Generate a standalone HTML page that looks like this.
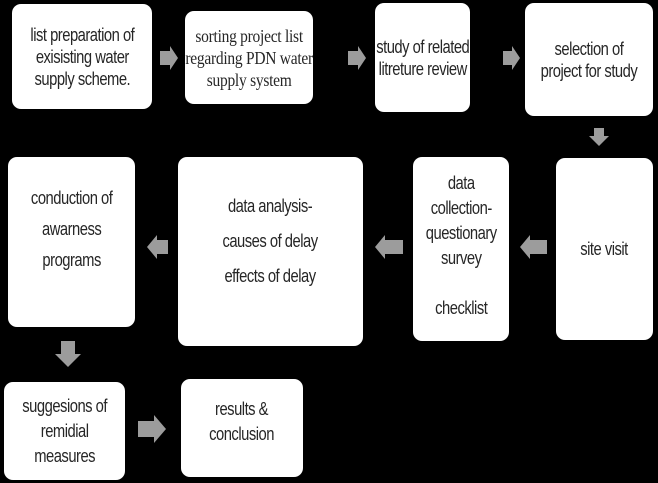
<!DOCTYPE html>
<html><head><meta charset="utf-8"><style>
html,body{margin:0;padding:0;background:#000;}
body{width:658px;height:483px;position:relative;overflow:hidden;font-family:"Liberation Sans Narrow","Liberation Sans",sans-serif;}
.b{position:absolute;background:#fff;border-radius:9px;display:flex;align-items:center;justify-content:center;text-align:center;color:#262626;font-size:18px;line-height:22px;letter-spacing:-0.6px;white-space:nowrap;}
.b > span{display:block;transform:scaleX(0.82);}
.s{font-family:"Liberation Serif",serif;letter-spacing:-0.3px;font-size:18px;}
.s > span{transform:scaleX(0.86);}
svg{position:absolute;left:0;top:0;}
</style></head><body>
<div class="b" style="left:12px;top:4px;width:140px;height:105px;"><span>list preparation of<br>exisisting water<br>supply scheme.</span></div>
<div class="b s" style="left:185px;top:11px;width:128px;height:93px;"><span>sorting project list<br>regarding PDN water<br>supply system</span></div>
<div class="b" style="left:375px;top:3px;width:95px;height:109px;"><span>study of related<br>litreture review</span></div>
<div class="b" style="left:525px;top:3px;width:128px;height:113px;"><span>selection of<br>project for study</span></div>

<div class="b" style="left:8px;top:157px;width:127px;height:170px;line-height:31px;"><span style="margin-top:-26px">conduction of<br>awarness<br>programs</span></div>
<div class="b" style="left:178px;top:157px;width:185px;height:189px;line-height:35px;"><span style="margin-top:-20px">data analysis-<br>causes of delay<br>effects of delay</span></div>
<div class="b" style="left:413px;top:157px;width:96px;height:184px;line-height:25px;"><span style="margin-top:-6px">data<br>collection-<br>questionary<br>survey<br><br style="line-height:8px">checklist</span></div>
<div class="b" style="left:556px;top:158px;width:97px;height:182px;"><span>site visit</span></div>

<div class="b" style="left:4px;top:382px;width:121px;height:98px;line-height:25px;"><span>suggesions of<br>remidial<br>measures</span></div>
<div class="b" style="left:181px;top:379px;width:122px;height:98px;line-height:25px;"><span style="margin-top:-12px">results &amp;<br>conclusion</span></div>

<svg width="658" height="483" fill="#9c9c9c">
<polygon points="160,51 170,51 170,46 178,58 170,70 170,65 160,65"/>
<polygon points="348,51 358,51 358,46 366,58 358,70 358,65 348,65"/>
<polygon points="503,51 512,51 512,46 520,58 512,70 512,65 503,65"/>
<polygon points="594,128 604,128 604,136 609,136 599,146 589,136 594,136"/>
<polygon points="168,240 157,240 157,235 147,247 157,259 157,254 168,254"/>
<polygon points="403,240 385,240 385,235 375,247 385,259 385,254 403,254"/>
<polygon points="547,240 530,240 530,235 520,247 530,259 530,254 547,254"/>
<polygon points="61,341 75,341 75,354 81,354 68,367 55,354 61,354"/>
<polygon points="138,421 154,421 154,415 166,429 154,443 154,437 138,437"/>
</svg>
</body></html>
